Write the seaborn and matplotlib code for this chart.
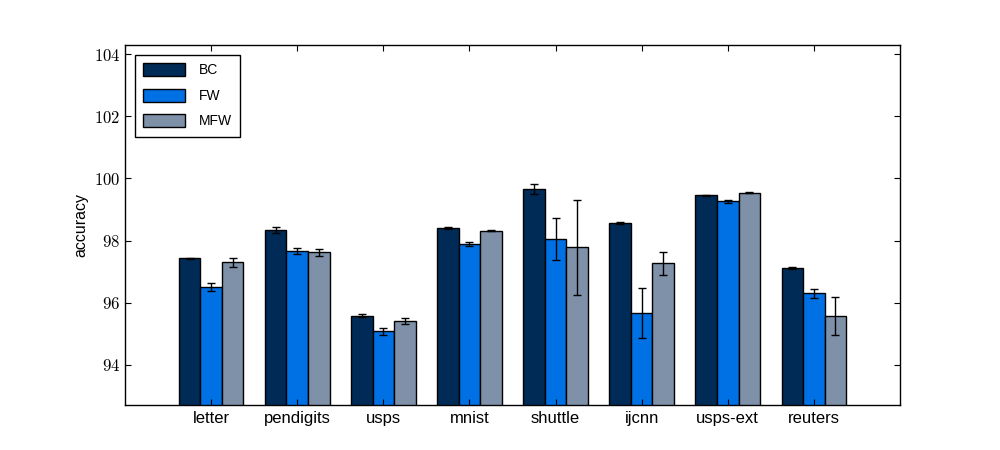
import numpy as np
import pandas as pd
import matplotlib
matplotlib.use("Agg")
import matplotlib.pyplot as plt
import matplotlib.patches as mpatches
import seaborn as sns

datasets = ["letter", "pendigits", "usps", "mnist", "shuttle", "ijcnn", "usps-ext", "reuters"]
methods = ["BC", "FW", "MFW"]
colors = ["#002B57", "#0071E4", "#7E91A8"]

bc_mean = [97.43, 98.33, 95.58, 98.41, 99.65, 98.57, 99.46, 97.11]
bc_err = [0.02, 0.09, 0.05, 0.03, 0.16, 0.03, 0.02, 0.03]
fw_mean = [96.50, 97.66, 95.08, 97.88, 98.04, 95.66, 99.26, 96.30]
fw_err = [0.13, 0.09, 0.11, 0.07, 0.68, 0.80, 0.06, 0.145]
mfw_mean = [97.30, 97.62, 95.41, 98.32, 97.78, 97.26, 99.54, 95.58]
mfw_err = [0.15, 0.12, 0.09, 0.02, 1.54, 0.37, 0.02, 0.61]

means = [bc_mean, fw_mean, mfw_mean]
errs = [bc_err, fw_err, mfw_err]

df = pd.DataFrame({
    "dataset": datasets * 3,
    "method": np.repeat(methods, len(datasets)),
    "accuracy": bc_mean + fw_mean + mfw_mean,
})

plt.rcParams["font.family"] = ["Liberation Sans", "DejaVu Sans"]
plt.rcParams["mathtext.fontset"] = "cm"

fig, ax = plt.subplots(figsize=(10, 4.5), dpi=100)
plt.subplots_adjust(left=0.125, right=0.9, bottom=0.1, top=0.9)

sns.barplot(data=df, x="dataset", y="accuracy", hue="method", palette=colors,
            hue_order=methods, order=datasets, width=0.75, saturation=1,
            edgecolor="black", linewidth=1, errorbar=None, ax=ax, legend=False)

# error bars on top of each bar
for container, err in zip(ax.containers, errs):
    xs = [p.get_x() + p.get_width() / 2 for p in container]
    ys = [p.get_height() for p in container]
    ax.errorbar(xs, ys, yerr=err, fmt="none", ecolor="black",
                elinewidth=1, capsize=3, capthick=1)

ax.set_xlim(-1, 8)
ax.set_ylim(92.7, 104.3)
yticks = [94, 96, 98, 100, 102, 104]
ax.set_yticks(yticks)
ax.set_yticklabels([f"${t}$" for t in yticks], fontsize=12)
ax.tick_params(axis="x", labelsize=12, pad=4)
ax.tick_params(direction="in", top=True, right=True, length=4, width=0.8)
ax.set_xlabel("")
ax.set_ylabel("accuracy", fontsize=11.5)
for s in ax.spines.values():
    s.set_linewidth(1)
    s.set_color("black")

handles = [mpatches.Patch(facecolor=c, edgecolor="black", label=m)
           for c, m in zip(colors, methods)]
leg = ax.legend(handles=handles, loc="upper left", fancybox=False,
                edgecolor="black", framealpha=1, fontsize=10,
                handlelength=3.0, handleheight=1.1, labelspacing=0.8,
                borderpad=0.6, borderaxespad=0.7, handletextpad=1.0)
leg.get_frame().set_linewidth(1)

fig.savefig("out.png", dpi=100)
